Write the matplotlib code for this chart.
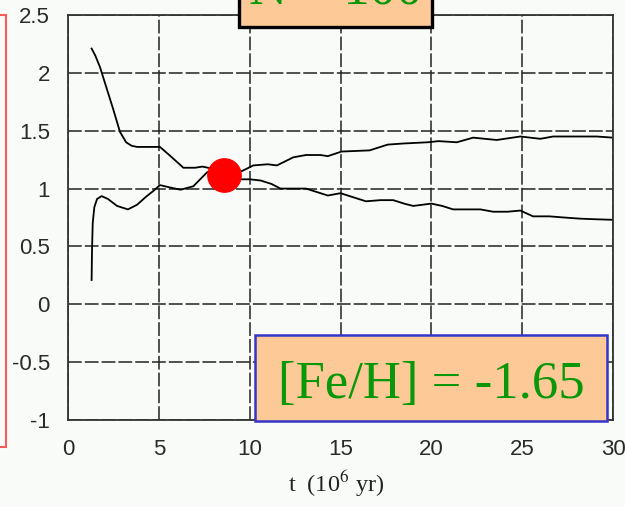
import matplotlib
matplotlib.use("Agg")
import matplotlib.pyplot as plt
from matplotlib.patches import Rectangle

# data
t_a = [1.3, 1.5, 1.76, 2.1, 2.5, 2.86, 3.2, 3.5, 3.8, 4.5, 5.06, 5.5, 6.0, 6.35, 7.0, 7.4,
       8.0, 8.6, 9.2, 9.5, 10.0, 10.6, 11.2, 11.7, 12.4, 13.1, 13.9, 14.3, 15.0, 15.6, 16.4,
       17.2, 17.9, 18.5, 19.0, 20.0, 20.6, 21.2, 22.0, 22.7, 23.4, 24.2, 24.9, 25.6, 26.5,
       27.3, 28.2, 29.0, 30.0]
y_a = [2.21, 2.15, 2.05, 1.88, 1.68, 1.49, 1.40, 1.37, 1.36, 1.36, 1.36, 1.30, 1.23, 1.18,
       1.18, 1.19, 1.17, 1.14, 1.10, 1.08, 1.08, 1.07, 1.04, 1.00, 1.00, 1.00, 0.96, 0.94,
       0.96, 0.93, 0.89, 0.90, 0.90, 0.87, 0.85, 0.87, 0.85, 0.82, 0.82, 0.82, 0.80, 0.80,
       0.81, 0.76, 0.76, 0.75, 0.74, 0.735, 0.73]

t_b = [1.3, 1.32, 1.36, 1.45, 1.6, 1.85, 2.2, 2.7, 3.3, 3.8, 4.3, 4.7, 5.06, 5.6, 6.2, 6.9,
       7.65, 8.6, 9.56, 10.2, 11.0, 11.5, 12.4, 13.1, 13.9, 14.3, 15.06, 16.6, 17.6, 18.5,
       19.8, 20.4, 21.4, 22.3, 23.6, 24.9, 26.0, 26.7, 28.0, 29.1, 30.0]
y_b = [0.21, 0.45, 0.70, 0.84, 0.91, 0.935, 0.91, 0.85, 0.82, 0.86, 0.93, 0.98, 1.03, 1.01,
       0.99, 1.02, 1.14, 1.17, 1.15, 1.20, 1.21, 1.20, 1.27, 1.29, 1.29, 1.28, 1.32, 1.33,
       1.38, 1.39, 1.40, 1.41, 1.40, 1.44, 1.42, 1.45, 1.43, 1.45, 1.45, 1.45, 1.44]

dot_t = [8.6]
dot_y = [1.12]

xticks = [0, 5, 10, 15, 20, 25, 30]
yticks = [-1, -0.5, 0, 0.5, 1, 1.5, 2, 2.5]
ylabels = ['-1', '-0.5', '0', '0.5', '1', '1.5', '2', '2.5']

W, H = 625, 507
bg = '#f8fbf8'
plt.rcParams['mathtext.fontset'] = 'stix'

fig = plt.figure(figsize=(W / 100, H / 100), dpi=100, facecolor=bg)
ax = fig.add_axes([68 / W, (H - 420) / H, 545 / W, 405 / H], facecolor=bg)

ax.plot(t_a, y_a, color='black', lw=1.3)
ax.plot(t_b, y_b, color='black', lw=1.3)
ax.plot(dot_t, dot_y, 'o', color='#ff0000', ms=24, zorder=5)

ax.set_xlim(0, 30)
ax.set_ylim(-1, 2.5)
ax.set_xticks(xticks)
ax.set_xticklabels([str(v) for v in xticks])
ax.set_yticks(yticks)
ax.set_yticklabels(ylabels)
ax.tick_params(length=0, labelsize=16, colors='#2a2a2a')
ax.tick_params(axis='y', pad=13)
ax.tick_params(axis='x', pad=14)
for lab in ax.get_xticklabels() + ax.get_yticklabels():
    lab.set_family('Liberation Sans')
ax.grid(True, color='#222222', lw=1.1, linestyle=(0, (9, 2)))
for s in ax.spines.values():
    s.set_color('#333333')
    s.set_linewidth(1.3)

fig.text(336 / W, (H - 492) / H, 't  (10$^{6}$ yr)', ha='center', va='baseline',
         fontsize=17.5, family='Liberation Serif', color='#222222')


def px(x, y):
    return x / W, (H - y) / H


# red frame on the left, mostly off the picture
x0, y0 = px(-20, 447)
fig.add_artist(Rectangle((x0, y0), 25.5 / W, 432 / H, transform=fig.transFigure,
                         fill=False, edgecolor='#ff5a5a', lw=1.5))

# N = 100 box, cut off at the top
x0, y0 = px(239, 27)
fig.add_artist(Rectangle((x0, y0), 193 / W, 80 / H, transform=fig.transFigure,
                         facecolor='#fdc997', edgecolor='black', lw=2.4, zorder=6))
fig.text(335.5 / W, (H - 4) / H, 'N = 100', ha='center', va='baseline', fontsize=38,
         family='Liberation Serif', color='#0a980a', zorder=7)

# [Fe/H] box
x0, y0 = px(255, 421)
fig.add_artist(Rectangle((x0, y0), 352 / W, 86 / H, transform=fig.transFigure,
                         facecolor='#fdc997', edgecolor='#3535c8', lw=1.8, zorder=6))
fig.text(431 / W, (H - 398) / H, '[Fe/H] = -1.65', ha='center', va='baseline', fontsize=38,
         family='Liberation Serif', color='#0a980a', zorder=7)

fig.savefig('out.png', dpi=100, facecolor=bg)
